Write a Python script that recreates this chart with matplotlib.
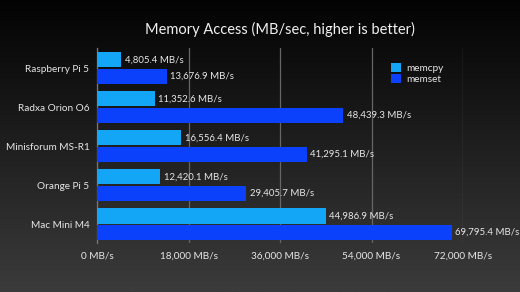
import numpy as np
import matplotlib
matplotlib.use("Agg")
import matplotlib.pyplot as plt
from matplotlib.ticker import FuncFormatter
from matplotlib.colors import LinearSegmentedColormap

categories = ["Raspberry Pi 5", "Radxa Orion O6", "Minisforum MS-R1", "Orange Pi 5", "Mac Mini M4"]
memcpy = [4805.4, 11352.6, 16556.4, 12420.1, 44986.9]
memset = [13676.9, 48439.3, 41295.1, 29405.7, 69795.4]
xticks = [0, 18000, 36000, 54000, 72000]
series_names = ["memcpy", "memset"]

plt.rcParams['font.family'] = ['Lato', 'DejaVu Sans']

fig = plt.figure(figsize=(5.2, 2.92), dpi=100)
# gradient background
bg = fig.add_axes([0, 0, 1, 1], zorder=-10)
grad = np.linspace(0, 1, 256).reshape(-1, 1)
cmap = LinearSegmentedColormap.from_list("bg", ["#030303", "#3b3b3b"])
bg.imshow(grad, aspect='auto', cmap=cmap, extent=[0, 1, 0, 1], origin='upper')
bg.axis('off')

ax = fig.add_axes([97/520, 1 - 243/292, (463 - 97)/520, (243 - 48)/292])
ax.patch.set_alpha(0)

y = np.arange(len(categories))
h = 0.39
off = 0.215
c1, c2 = "#14a6f6", "#0b41fb"
b1 = ax.barh(y - off, memcpy, height=h, color=c1, label=series_names[0], zorder=3)
b2 = ax.barh(y + off, memset, height=h, color=c2, label=series_names[1], zorder=3)

for bars, vals in ((b1, memcpy), (b2, memset)):
    for rect, v in zip(bars, vals):
        ax.text(v + 700, rect.get_y() + rect.get_height() / 2, f"{v:,.1f} MB/s",
                va='center', ha='left', color='#e8e8e8', fontsize=6.9, zorder=4)

ax.set_xlim(0, 72000)
ax.set_ylim(len(categories) - 0.52, -0.52)
ax.set_xticks(xticks)
ax.xaxis.set_major_formatter(FuncFormatter(lambda v, p: f"{int(v):,} MB/s"))
ax.set_yticks(y)
ax.set_yticklabels(categories)
ax.tick_params(axis='both', length=0, colors='#e6e6e6', labelsize=7.2)
ax.tick_params(axis='x', pad=6)
ax.tick_params(axis='y', pad=5.5)
ax.grid(axis='x', color='#666666', linewidth=0.9, zorder=0)
for s in ['top', 'right', 'bottom']:
    ax.spines[s].set_visible(False)
ax.spines['left'].set_color('#777777')
ax.spines['left'].set_linewidth(0.9)

leg = ax.legend(loc='upper left', bbox_to_anchor=(0.79, 0.95), frameon=False,
                fontsize=7.2, labelcolor='#e6e6e6', handlelength=1.0, handleheight=1.0,
                handletextpad=0.5, labelspacing=0.15, borderpad=0)

fig.text(280/520, 1 - 29/292, "Memory Access (MB/sec, higher is better)", ha='center', va='center',
         color='#f0f0f0', fontsize=10.5)

fig.savefig("out.png", dpi=100)
